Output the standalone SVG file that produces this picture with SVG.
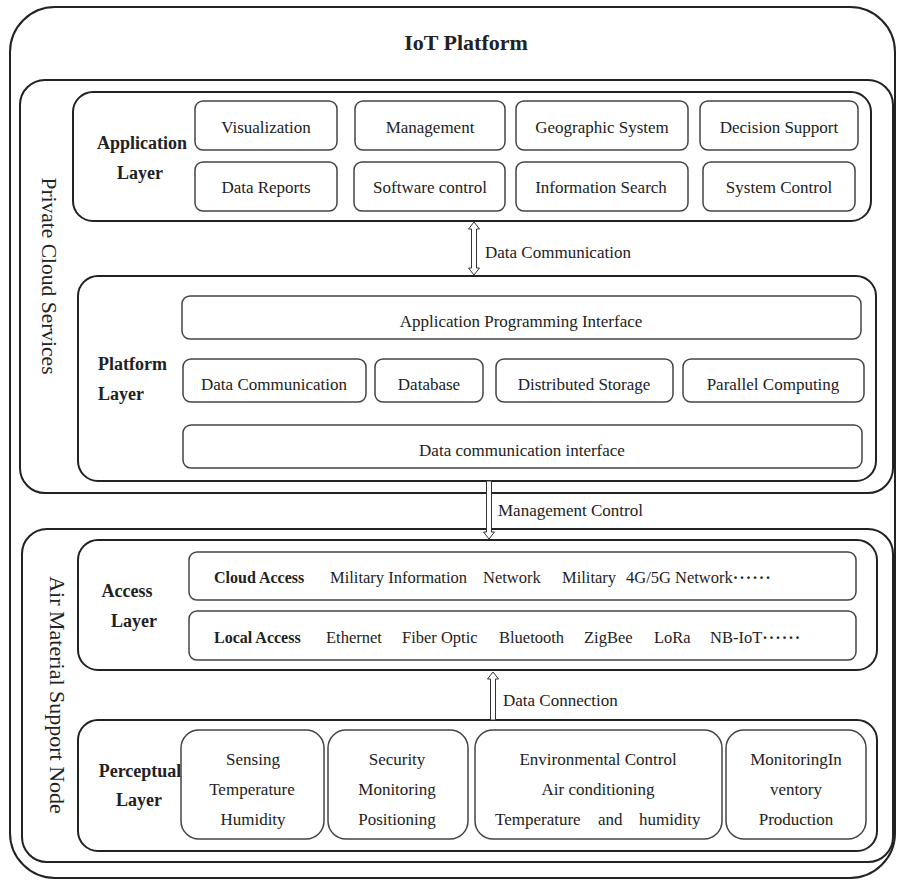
<svg xmlns="http://www.w3.org/2000/svg" width="897" height="880" viewBox="0 0 897 880">
<style>
text{font-family:"Liberation Serif","Times New Roman",serif;fill:#222}
.big{fill:none;stroke:#222;stroke-width:2}
.sub{fill:#fff;stroke:#444;stroke-width:1.5}
.t{font-size:17px;text-anchor:middle}
.b{font-size:18px;font-weight:bold}
.bc{font-size:18px;font-weight:bold;text-anchor:middle}
.side{font-size:21.5px;text-anchor:middle}
.arr{fill:#fff;stroke:#333;stroke-width:1}
.lab{font-size:17px}
.acc{font-size:16.5px}
.l{font-size:17px}
.dots{font-weight:bold;letter-spacing:1px}
</style>
<rect width="897" height="880" fill="#fff"/>
<g id="iot-platform">
<rect class="big" x="10" y="7" width="885" height="871" rx="45"/>
<text x="466" y="50" style="font-size:22px;font-weight:bold;text-anchor:middle">IoT Platform</text>
</g>
<g id="private-cloud">
<rect class="big" x="20" y="80" width="873" height="413" rx="25"/>
<text class="side" transform="translate(42,276) rotate(90)">Private Cloud Services</text>
</g>
<g id="application-layer">
<rect class="big" x="73" y="92" width="798" height="129" rx="20"/>
<text class="bc" x="142" y="149">Application</text>
<text class="bc" x="140" y="179">Layer</text>
</g>
<g id="app-visualization"><rect class="sub" x="195" y="101" width="142" height="49" rx="8"/><text class="t" x="266" y="133">Visualization</text></g>
<g id="app-management"><rect class="sub" x="355" y="101" width="150" height="49" rx="8"/><text class="t" x="430" y="133">Management</text></g>
<g id="app-geographic"><rect class="sub" x="516" y="101" width="172" height="49" rx="8"/><text class="t" x="602" y="133">Geographic System</text></g>
<g id="app-decision"><rect class="sub" x="700" y="101" width="158" height="49" rx="8"/><text class="t" x="779" y="133">Decision Support</text></g>
<g id="app-reports"><rect class="sub" x="195" y="162" width="142" height="49" rx="8"/><text class="t" x="266" y="193">Data Reports</text></g>
<g id="app-software"><rect class="sub" x="354" y="162" width="151" height="49" rx="8"/><text class="t" x="430" y="193">Software control</text></g>
<g id="app-search"><rect class="sub" x="516" y="162" width="172" height="49" rx="8"/><text class="t" x="601" y="193">Information Search</text></g>
<g id="app-system"><rect class="sub" x="703" y="162" width="152" height="49" rx="8"/><text class="t" x="779" y="193">System Control</text></g>

<g id="platform-layer">
<rect class="big" x="78" y="276" width="798" height="205" rx="20"/>
<text class="b" x="98" y="370">Platform</text>
<text class="b" x="98" y="400">Layer</text>
</g>
<g id="plat-api"><rect class="sub" x="182" y="296" width="679" height="43" rx="8"/><text class="t" x="521" y="327">Application Programming Interface</text></g>
<g id="plat-datacomm"><rect class="sub" x="183" y="359" width="183" height="43" rx="8"/><text class="t" x="274" y="390">Data Communication</text></g>
<g id="plat-database"><rect class="sub" x="375" y="359" width="108" height="43" rx="8"/><text class="t" x="429" y="390">Database</text></g>
<g id="plat-storage"><rect class="sub" x="496" y="359" width="177" height="43" rx="8"/><text class="t" x="584" y="390">Distributed Storage</text></g>
<g id="plat-parallel"><rect class="sub" x="683" y="359" width="181" height="43" rx="8"/><text class="t" x="773" y="390">Parallel Computing</text></g>
<g id="plat-interface"><rect class="sub" x="183" y="425" width="679" height="43" rx="8"/><text class="t" x="522" y="456">Data communication interface</text></g>

<g id="air-material">
<rect class="big" x="22" y="529" width="871" height="333" rx="25"/>
<text class="side" style="font-size:22px" transform="translate(50,695) rotate(90)">Air Material Support Node</text>
</g>
<g id="access-layer">
<rect class="big" x="78" y="540" width="799" height="130" rx="20"/>
<text class="bc" x="127" y="597">Access</text>
<text class="bc" x="134" y="627">Layer</text>
</g>
<g id="cloud-access"><rect class="sub" x="189" y="552" width="667" height="48" rx="8"/>
<text class="b" style="font-size:16px" x="214" y="583">Cloud Access</text>
<text class="acc" x="330" y="583">Military Information</text>
<text class="acc" x="483" y="583">Network</text>
<text class="acc" x="562" y="583">Military</text>
<text class="acc" x="626" y="583">4G/5G Network<tspan class="dots">······</tspan></text>
</g>
<g id="local-access"><rect class="sub" x="189" y="611" width="667" height="49" rx="8"/>
<text class="b" style="font-size:16px" x="214" y="643">Local Access</text>
<text class="acc" x="326" y="643">Ethernet</text>
<text class="acc" x="402" y="643">Fiber Optic</text>
<text class="acc" x="499" y="643">Bluetooth</text>
<text class="acc" x="584" y="643">ZigBee</text>
<text class="acc" x="654" y="643">LoRa</text>
<text class="acc" x="710" y="643">NB-IoT<tspan class="dots">······</tspan></text>
</g>
<g id="perceptual-layer">
<rect class="big" x="78" y="720" width="799" height="131" rx="20"/>
<text class="bc" x="140" y="777">Perceptual</text>
<text class="bc" x="139" y="806">Layer</text>
</g>
<g id="perc-sensing"><rect class="sub" x="181" y="730" width="143" height="109" rx="18"/>
<text class="t" x="253" y="765">Sensing</text><text class="t" x="252" y="795">Temperature</text><text class="t" x="253" y="825">Humidity</text></g>
<g id="perc-security"><rect class="sub" x="328" y="730" width="140" height="109" rx="18"/>
<text class="t" x="397" y="765">Security</text><text class="t" x="397" y="795">Monitoring</text><text class="t" x="397" y="825">Positioning</text></g>
<g id="perc-environment"><rect class="sub" x="475" y="730" width="247" height="109" rx="18"/>
<text class="t" x="598" y="765">Environmental Control</text><text class="t" x="598" y="795">Air conditioning</text>
<text class="l" x="495" y="825">Temperature</text><text class="l" x="598" y="825">and</text><text class="l" x="639" y="825">humidity</text></g>
<g id="perc-monitoring"><rect class="sub" x="726" y="730" width="140" height="109" rx="18"/>
<text class="t" x="796" y="765">MonitoringIn</text><text class="t" x="796" y="795">ventory</text><text class="t" x="796" y="825">Production</text></g>

<g id="connectors">
<polygon class="arr" points="474,222 479.5,229 476.5,229 476.5,268 479.5,268 474,275 468.5,268 471.5,268 471.5,229 468.5,229"/>
<text class="lab" x="485" y="258">Data Communication</text>
<polygon class="arr" points="486.5,481 491.5,481 491.5,532 494.5,532 489,539 483.5,532 486.5,532"/>
<text class="lab" x="498" y="516">Management Control</text>
<polygon class="arr" points="493,672 498.5,679 495.5,679 495.5,720 490.5,720 490.5,679 487.5,679"/>
<text class="lab" x="503" y="706">Data Connection</text>
</g>
</svg>
